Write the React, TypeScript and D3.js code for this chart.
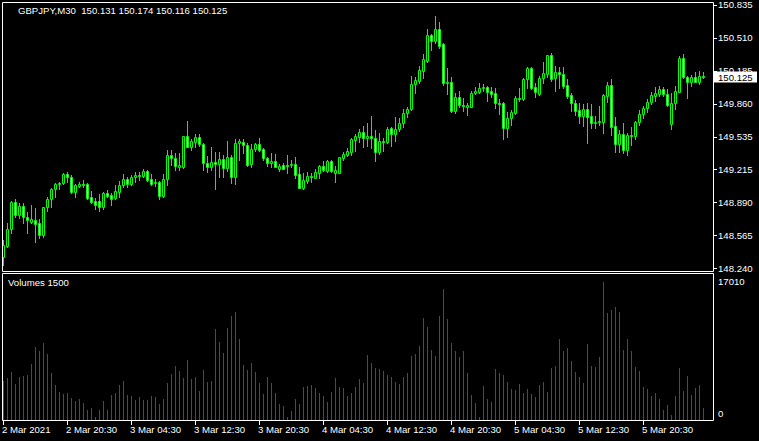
import * as d3 from 'd3'

// GBPJPY M30, 176 bars
const opens = [
  148.352, 148.46, 148.628, 148.893, 148.765, 148.854, 148.746, 148.697, 148.716, 148.687,
  148.569, 148.844, 148.923, 149.021, 149.07, 149.08, 149.169, 149.139, 148.992, 149.051,
  149.07, 149.07, 148.943, 148.903, 148.903, 148.844, 148.982, 148.962, 148.933, 148.992,
  149.061, 149.12, 149.07, 149.139, 149.159, 149.149, 149.198, 149.12, 149.08, 149.09,
  148.952, 149.12, 149.356, 149.326, 149.238, 149.238, 149.543, 149.434, 149.484, 149.533,
  149.464, 149.277, 149.238, 149.287, 149.267, 149.316, 149.228, 149.336, 149.139, 149.474,
  149.484, 149.454, 149.267, 149.415, 149.464, 149.415, 149.326, 149.277, 149.297, 149.218,
  149.257, 149.257, 149.257, 149.267, 149.169, 149.031, 149.1, 149.149, 149.129, 149.179,
  149.248, 149.198, 149.297, 149.179, 149.179, 149.326, 149.356, 149.385, 149.503, 149.533,
  149.582, 149.523, 149.543, 149.523, 149.385, 149.494, 149.484, 149.621, 149.562, 149.612,
  149.671, 149.769, 149.808, 150.054, 150.084, 150.182, 150.281, 150.537, 150.478, 150.596,
  150.448, 150.064, 150.074, 149.789, 149.927, 149.848, 149.828, 149.828, 149.966, 149.976,
  150.015, 150.025, 149.986, 149.966, 149.868, 149.868, 149.621, 149.72, 149.769, 149.917,
  149.907, 150.104, 150.212, 150.025, 149.956, 150.113, 150.153, 150.34, 150.113, 150.173,
  150.153, 150.045, 149.946, 149.868, 149.799, 149.74, 149.808, 149.74, 149.671, 149.681,
  149.681, 149.936, 150.045, 149.641, 149.464, 149.562, 149.405, 149.553, 149.543, 149.681,
  149.759, 149.818, 149.877, 149.936, 149.956, 150.005, 149.956, 149.661, 149.868, 149.976,
  150.31, 150.123, 150.074, 150.123, 150.074, 150.131,
]
const highs = [
  148.519, 148.687, 148.903, 148.923, 148.883, 148.883, 148.795, 148.864, 148.834, 148.726,
  148.844, 148.943, 149.031, 149.08, 149.09, 149.179, 149.188, 149.159, 149.07, 149.09,
  149.11, 149.08, 149.002, 148.933, 148.972, 148.992, 149.011, 148.982, 149.061, 149.1,
  149.169, 149.139, 149.159, 149.188, 149.188, 149.218, 149.208, 149.169, 149.12, 149.1,
  149.169, 149.405, 149.405, 149.375, 149.375, 149.543, 149.69, 149.513, 149.562, 149.562,
  149.474, 149.346, 149.434, 149.385, 149.385, 149.356, 149.494, 149.356, 149.513, 149.513,
  149.513, 149.474, 149.464, 149.474, 149.523, 149.425, 149.336, 149.375, 149.366, 149.267,
  149.277, 149.356, 149.307, 149.336, 149.238, 149.179, 149.188, 149.179, 149.218, 149.257,
  149.297, 149.307, 149.307, 149.248, 149.336, 149.385, 149.425, 149.523, 149.562, 149.612,
  149.641, 149.671, 149.74, 149.602, 149.572, 149.523, 149.631, 149.631, 149.73, 149.72,
  149.808, 149.828, 150.133, 150.123, 150.232, 150.35, 150.596, 150.546, 150.724, 150.665,
  150.458, 150.212, 150.123, 149.966, 149.986, 149.917, 149.868, 149.986, 150.025, 150.064,
  150.054, 150.03, 150.025, 150.015, 149.907, 149.873, 149.779, 149.799, 149.936, 150.015,
  150.113, 150.222, 150.222, 150.064, 150.133, 150.271, 150.34, 150.359, 150.232, 150.222,
  150.222, 150.104, 149.966, 149.897, 149.868, 149.858, 149.868, 149.858, 149.74, 149.838,
  149.956, 150.074, 150.104, 149.73, 149.602, 149.671, 149.572, 149.631, 149.69, 149.799,
  149.838, 149.907, 149.976, 150.025, 150.035, 150.025, 150.005, 149.966, 150.035, 150.33,
  150.35, 150.133, 150.143, 150.173, 150.182, 150.174,
]
const lows = [
  148.273, 148.451, 148.588, 148.746, 148.736, 148.687, 148.588, 148.687, 148.5, 148.539,
  148.549, 148.805, 148.844, 148.943, 149.021, 149.07, 149.09, 148.982, 148.943, 149.041,
  149.041, 148.923, 148.883, 148.824, 148.805, 148.824, 148.943, 148.864, 148.923, 148.943,
  149.041, 149.041, 149.061, 149.09, 149.11, 149.139, 149.1, 149.061, 149.051, 148.923,
  148.943, 149.061, 149.257, 149.208, 149.208, 149.228, 149.434, 149.405, 149.434, 149.444,
  149.208, 149.188, 149.208, 149.021, 149.139, 149.139, 149.198, 149.08, 149.07, 149.307,
  149.375, 149.248, 149.238, 149.395, 149.395, 149.307, 149.248, 149.238, 149.238, 149.198,
  149.218, 149.179, 149.238, 149.129, 149.031, 149.021, 149.08, 149.09, 149.129, 149.129,
  149.198, 149.188, 149.188, 149.09, 149.179, 149.307, 149.346, 149.356, 149.395, 149.484,
  149.434, 149.444, 149.425, 149.297, 149.366, 149.395, 149.474, 149.444, 149.494, 149.592,
  149.631, 149.73, 149.799, 149.966, 150.064, 150.113, 150.271, 150.389, 150.458, 150.409,
  150.045, 149.956, 149.779, 149.769, 149.828, 149.789, 149.749, 149.828, 149.956, 149.966,
  149.986, 149.887, 149.927, 149.818, 149.759, 149.513, 149.533, 149.651, 149.759, 149.887,
  149.897, 150.015, 150.005, 149.927, 149.946, 150.064, 150.123, 150.084, 149.986, 150.015,
  150.015, 149.917, 149.789, 149.749, 149.671, 149.641, 149.474, 149.621, 149.621, 149.651,
  149.572, 149.877, 149.553, 149.385, 149.385, 149.375, 149.356, 149.454, 149.513, 149.651,
  149.72, 149.779, 149.858, 149.887, 149.936, 149.936, 149.838, 149.612, 149.808, 149.976,
  150.113, 149.917, 150.035, 150.074, 150.054, 150.116,
]
const closes = [
  148.47, 148.628, 148.893, 148.765, 148.854, 148.746, 148.716, 148.726, 148.677, 148.569,
  148.844, 148.923, 149.021, 149.07, 149.08, 149.169, 149.139, 148.992, 149.061, 149.07,
  149.061, 148.933, 148.893, 148.864, 148.844, 148.982, 148.952, 148.923, 149.002, 149.061,
  149.12, 149.07, 149.139, 149.159, 149.149, 149.198, 149.11, 149.07, 149.09, 148.952,
  149.12, 149.356, 149.326, 149.248, 149.257, 149.543, 149.434, 149.494, 149.533, 149.464,
  149.277, 149.238, 149.287, 149.267, 149.316, 149.228, 149.336, 149.139, 149.474, 149.494,
  149.454, 149.257, 149.415, 149.464, 149.405, 149.326, 149.277, 149.297, 149.238, 149.248,
  149.218, 149.252, 149.267, 149.159, 149.031, 149.11, 149.149, 149.139, 149.188, 149.248,
  149.208, 149.297, 149.198, 149.208, 149.336, 149.366, 149.395, 149.513, 149.543, 149.582,
  149.523, 149.543, 149.523, 149.385, 149.494, 149.484, 149.612, 149.562, 149.612, 149.671,
  149.769, 149.808, 150.054, 150.094, 150.192, 150.3, 150.537, 150.478, 150.596, 150.428,
  150.064, 150.074, 149.789, 149.927, 149.848, 149.838, 149.848, 149.966, 149.986, 150.015,
  150.025, 149.976, 149.956, 149.868, 149.858, 149.621, 149.72, 149.779, 149.917, 149.907,
  150.104, 150.212, 150.015, 149.976, 150.113, 150.163, 150.34, 150.104, 150.173, 150.153,
  150.035, 149.936, 149.868, 149.789, 149.74, 149.808, 149.73, 149.671, 149.681, 149.69,
  149.946, 150.045, 149.631, 149.464, 149.562, 149.405, 149.553, 149.543, 149.681, 149.759,
  149.818, 149.877, 149.946, 149.966, 150.005, 149.956, 149.848, 149.868, 149.986, 150.31,
  150.123, 150.074, 150.123, 150.074, 150.133, 150.125,
]
const volumes = [
  4808, 5218, 5958, 4438, 5342, 5424, 5547, 6903, 8999, 8506,
  9492, 8177, 5794, 4314, 3452, 3205, 3328, 2712, 2342, 2589,
  2096, 1233, 1479, 370, 1233, 2342, 1233, 3082, 3328, 4314,
  4808, 3082, 2958, 2465, 2835, 2465, 2520, 2958, 2835, 1972,
  2589, 4561, 5670, 6657, 6040, 5177, 7396, 5054, 5301, 3575,
  6164, 4684, 4808, 11218, 9615, 8259, 11341, 12820, 13313, 9985,
  6780, 6164, 7026, 5917, 4561, 3205, 5301, 4561, 3328, 1972,
  1726, 370, 1109, 2589, 1972, 4068, 4191, 4314, 3945, 3328,
  2958, 2219, 3452, 5177, 4068, 4000, 2958, 3328, 4068, 5054,
  4561, 8013, 7026, 6410, 6287, 6040, 5547, 5301, 4684, 4438,
  5301, 5794, 7890, 8136, 9122, 12574, 11464, 8629, 7890, 12820,
  16148, 12450, 9492, 8506, 7766, 8506, 5794, 3082, 2096, 370,
  4191, 2589, 2219, 6287, 5794, 5547, 4684, 3821, 3698, 4438,
  3328, 3821, 3205, 2835, 4314, 4684, 3452, 6410, 6657, 9985,
  8506, 8875, 7273, 5917, 5301, 4561, 9368, 6657, 6533, 7766,
  17010, 13190, 13560, 13930, 13313, 8629, 9985, 8506, 6533, 6040,
  4068, 3821, 2958, 3328, 2589, 1233, 1849, 616, 2958, 6410,
  3575, 5424, 3082, 3945, 4314, 1500,
]

const timeLabels = [
  '2 Mar 2021', '2 Mar 20:30', '3 Mar 04:30', '3 Mar 12:30', '3 Mar 20:30', '4 Mar 04:30',
  '4 Mar 12:30', '4 Mar 20:30', '5 Mar 04:30', '5 Mar 12:30', '5 Mar 20:30',
]
const priceTicks = [150.835, 150.51, 150.185, 149.86, 149.535, 149.215, 148.89, 148.565, 148.24]
const volumeMax = 17010
const symbol = 'GBPJPY,M30'

const font = '"Liberation Sans", Arial, sans-serif'
const LIME = '#00ff00'

export default function App() {
  const n = opens.length
  const x = d3.scaleLinear().domain([0, n - 1]).range([3.5, 3.5 + 4 * (n - 1)])
  const y = d3.scaleLinear().domain([148.24, 150.835]).range([268.3, 4.7])
  const yv = d3.scaleLinear().domain([0, volumeMax]).range([420, 282])
  const snap = (v: number) => Math.round(v) + 0.5

  const last = n - 1
  const lastClose = closes[last]
  const header = `${symbol}  ${opens[last].toFixed(3)} ${highs[last].toFixed(3)} ${lows[last].toFixed(3)} ${lastClose.toFixed(3)}`

  return (
    <>
      <style>{`body{margin:0;background:#000}`}</style>
      <svg width={759} height={441} style={{ display: 'block', background: '#000' }} fontFamily={font}>
        <defs>
          <clipPath id="pricePane">
            <rect x={3} y={3} width={710} height={268} />
          </clipPath>
        </defs>

        {/* candles */}
        <g clipPath="url(#pricePane)">
          {opens.map((o, i) => {
            const c = closes[i]
            const cx = x(i)
            const top = snap(y(Math.max(o, c)))
            const bot = snap(y(Math.min(o, c)))
            const bear = c < o
            return (
              <g key={i}>
                <line x1={cx} x2={cx} y1={Math.round(y(highs[i]))} y2={Math.round(y(lows[i])) + 1} stroke={LIME} />
                <path
                  d={`M${cx - 1},${top}H${cx + 1}V${bot}H${cx - 1}Z`}
                  fill={bear ? '#fff' : '#000'}
                  stroke={LIME}
                />
              </g>
            )
          })}
        </g>

        {/* volumes */}
        {volumes.map((v, i) => (
          <line
            key={i}
            x1={x(i)}
            x2={x(i)}
            y1={420}
            y2={Math.round(yv(v))}
            stroke={i > 0 && v > volumes[i - 1] ? '#008000' : '#ff0000'}
          />
        ))}

        {/* frames */}
        <g stroke="#fff" fill="none">
          <path d="M2.5,2.5H713.5V271.5H2.5Z" />
          <path d="M2.5,273.5H713.5V420.5H2.5Z" />
        </g>

        {/* price axis */}
        {priceTicks.map(t => (
          <g key={t}>
            <line x1={714} x2={717} y1={snap(y(t))} y2={snap(y(t))} stroke="#fff" />
            <text x={718} y={y(t) + 3.5} fill="#fff" fontSize={9.6}>
              {t.toFixed(3)}
            </text>
          </g>
        ))}
        <rect x={714} y={snap(y(lastClose)) - 6} width={43} height={11} fill="#fff" />
        <text x={718} y={snap(y(lastClose)) + 3.5} fill="#000" fontSize={9.6}>
          {lastClose.toFixed(3)}
        </text>

        {/* volume axis */}
        <text x={718} y={284.5} fill="#fff" fontSize={9.6}>{volumeMax}</text>
        <text x={718} y={417} fill="#fff" fontSize={9.6}>0</text>

        {/* time axis */}
        {timeLabels.map((t, k) => {
          const tx = x(k * 16)
          return (
            <g key={t}>
              <line x1={tx} x2={tx} y1={421} y2={425} stroke="#fff" />
              <text x={tx - 1.5} y={433} fill="#fff" fontSize={9.6}>
                {t}
              </text>
            </g>
          )
        })}

        {/* titles */}
        <text x={18} y={14} fill="#fff" fontSize={9.6} style={{ whiteSpace: 'pre' }}>
          {header}
        </text>
        <text x={8} y={286} fill="#fff" fontSize={9.6}>
          {`Volumes ${volumes[last]}`}
        </text>
      </svg>
    </>
  )
}
